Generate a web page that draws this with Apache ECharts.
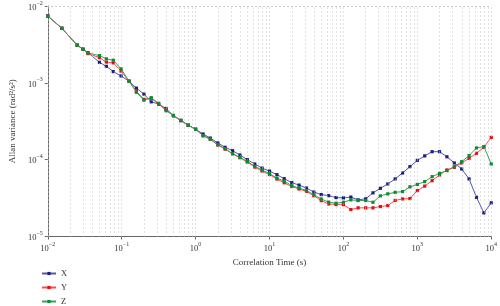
<!DOCTYPE html>
<html>
<head>
<meta charset="utf-8">
<script src="https://cdn.jsdelivr.net/npm/echarts@6/dist/echarts.min.js"></script>
<style>
html,body{margin:0;padding:0;background:#fff;}
#c{width:500px;height:306px;}
</style>
</head>
<body>
<div id="c"></div>
<script>
// Correlation time (s)
const tau = [0.01, 0.0155, 0.025, 0.03, 0.035, 0.05, 0.062, 0.077, 0.098,
  0.126, 0.158, 0.2, 0.251, 0.316, 0.398, 0.501, 0.631, 0.794, 1,
  1.26, 1.58, 2, 2.51, 3.16, 3.98, 5.01, 6.31, 7.94, 10,
  12.6, 15.8, 20, 25.1, 31.6, 39.8, 50.1, 63.1, 79.4, 100,
  126, 158, 200, 251, 316, 398, 501, 631, 794, 1000,
  1259, 1585, 1995, 2512, 3162, 3981, 5012, 6310, 7943, 10000];

const seriesX = [7.41e-3, 5.13e-3, 3.09e-3, 2.74e-3, 2.47e-3, 1.85e-3, 1.64e-3, 1.40e-3, 1.23e-3,
  1.05e-3, 8.53e-4, 7.13e-4, 5.66e-4, 5.29e-4, 4.64e-4, 3.73e-4, 3.21e-4, 2.81e-4, 2.49e-4,
  2.16e-4, 1.91e-4, 1.65e-4, 1.45e-4, 1.31e-4, 1.15e-4, 1.0e-4, 8.79e-5, 7.76e-5, 7.1e-5,
  6.38e-5, 5.66e-5, 5.02e-5, 4.67e-5, 4.27e-5, 3.79e-5, 3.51e-5, 3.40e-5, 3.21e-5, 3.18e-5,
  3.26e-5, 3.0e-5, 3.09e-5, 3.70e-5, 4.24e-5, 4.83e-5, 5.61e-5, 6.71e-5, 8.11e-5, 9.8e-5,
  1.12e-4, 1.27e-4, 1.27e-4, 1.09e-4, 9.06e-5, 7.57e-5, 5.61e-5, 3.24e-5, 2.03e-5, 2.74e-5];

const seriesY = [7.41e-3, 5.13e-3, 3.09e-3, 2.74e-3, 2.40e-3, 2.13e-3, 1.86e-3, 1.82e-3, 1.42e-3,
  1.05e-3, 7.76e-4, 6.1e-4, 6.3e-4, 5.26e-4, 4.46e-4, 3.73e-4, 3.25e-4, 2.81e-4, 2.49e-4,
  2.05e-4, 1.84e-4, 1.55e-4, 1.37e-4, 1.19e-4, 1.06e-4, 9.3e-5, 8.0e-5, 7.1e-5, 6.4e-5,
  5.6e-5, 5.0e-5, 4.47e-5, 4.15e-5, 3.86e-5, 3.39e-5, 2.93e-5, 2.65e-5, 2.6e-5, 2.6e-5,
  2.24e-5, 2.36e-5, 2.36e-5, 2.36e-5, 2.45e-5, 2.53e-5, 2.95e-5, 3.08e-5, 3.12e-5, 3.96e-5,
  4.53e-5, 5.33e-5, 6.32e-5, 7.35e-5, 7.94e-5, 9.06e-5, 1.04e-4, 1.21e-4, 1.45e-4, 1.95e-4];

const seriesZ = [7.41e-3, 5.13e-3, 3.09e-3, 2.74e-3, 2.45e-3, 2.26e-3, 2.05e-3, 1.97e-3, 1.52e-3,
  1.05e-3, 7.53e-4, 5.95e-4, 6.4e-4, 5.42e-4, 4.33e-4, 3.78e-4, 3.25e-4, 2.81e-4, 2.49e-4,
  2.05e-4, 1.85e-4, 1.57e-4, 1.39e-4, 1.20e-4, 1.07e-4, 9.5e-5, 8.18e-5, 7.31e-5, 6.58e-5,
  5.75e-5, 5.26e-5, 4.59e-5, 4.27e-5, 3.96e-5, 3.51e-5, 3.08e-5, 2.8e-5, 2.71e-5, 2.79e-5,
  3.0e-5, 2.94e-5, 2.94e-5, 2.79e-5, 3.38e-5, 3.59e-5, 3.76e-5, 3.84e-5, 4.43e-5, 4.76e-5,
  5.18e-5, 6.01e-5, 6.64e-5, 7.2e-5, 8.11e-5, 9.42e-5, 1.13e-4, 1.42e-4, 1.48e-4, 8.79e-5];

const seriesNames = ['X', 'Y', 'Z'];
const xDecades = [-2, -1, 0, 1, 2, 3];   // gridlines m*10^d, m = 1..9
const yDecades = [-5, -4, -3];
const xAxisName = 'Correlation Time (s)';
const yAxisName = 'Allan variance (rad\u00b2/s\u00b2)';

const FONT = '"Liberation Serif", "DejaVu Serif", serif';
const lineColors = ['#5558a8', '#ff4a4a', '#3aa05a'];
const dotColors = ['#1c1f80', '#e01010', '#108a35'];

function pow10Label(v) {
  const e = Math.round(Math.log10(v));
  const s = e < 0 ? '\u2212' + (-e) : String(e);
  return '{b|10}{s|' + s + '}';
}
const labelRich = {
  b: {fontFamily: FONT, fontSize: 8.5, color: '#333', lineHeight: 12, verticalAlign: 'bottom'},
  s: {fontFamily: FONT, fontSize: 6, color: '#333', lineHeight: 12, verticalAlign: 'top'}
};

const gridMarks = [];
xDecades.forEach(d => { for (let m = 1; m <= 9; m++) gridMarks.push({xAxis: m * Math.pow(10, d)}); });
gridMarks.push({xAxis: 1e4});
yDecades.forEach(d => { for (let m = 1; m <= 9; m++) gridMarks.push({yAxis: m * Math.pow(10, d)}); });
gridMarks.push({yAxis: 1e-2});

const series = [{
  name: '_grid', type: 'line', data: [], silent: true, z: 1,
  markLine: {
    silent: true, symbol: ['none', 'none'], animation: false,
    label: {show: false},
    lineStyle: {color: '#c4c4c4', width: 1, type: [1, 3]},
    emphasis: {disabled: true},
    data: gridMarks
  }
}];
[seriesX, seriesY, seriesZ].forEach((vals, i) => {
  series.push({
    name: seriesNames[i], type: 'line', z: 3 + i,
    data: tau.map((t, k) => [t, vals[k]]),
    symbol: 'rect', symbolSize: 3.2, showSymbol: true,
    lineStyle: {color: lineColors[i], width: 1},
    itemStyle: {color: dotColors[i]},
    emphasis: {disabled: true}
  });
});

const chart = echarts.init(document.getElementById('c'), null, {renderer: 'canvas'});
chart.setOption({
  animation: false,
  backgroundColor: '#fff',
  grid: {left: 37, right: 6, top: 5, bottom: 69.5, containLabel: false},
  legend: {
    data: seriesNames,
    orient: 'vertical', left: 41, top: 269, height: 60, padding: 0,
    itemWidth: 14, itemHeight: 4, itemGap: 5,
    textStyle: {fontFamily: FONT, fontSize: 8.5, color: '#333', lineHeight: 9}
  },
  xAxis: {
    type: 'log', logBase: 10, min: 0.01, max: 10000,
    name: xAxisName, nameLocation: 'middle', nameGap: 20,
    nameTextStyle: {fontFamily: FONT, fontSize: 9, color: '#333'},
    axisLine: {lineStyle: {color: '#666', width: 1}},
    axisTick: {show: true, length: 3, lineStyle: {color: '#666'}},
    axisLabel: {formatter: pow10Label, rich: labelRich, margin: 5},
    splitLine: {show: false}
  },
  yAxis: {
    type: 'log', logBase: 10, min: 1e-5, max: 1e-2,
    name: yAxisName, nameLocation: 'middle', nameGap: 23,
    nameTextStyle: {fontFamily: FONT, fontSize: 9, color: '#333'},
    axisLine: {show: true, lineStyle: {color: '#666', width: 1}},
    axisTick: {show: true, length: 3, lineStyle: {color: '#666'}},
    axisLabel: {formatter: pow10Label, rich: labelRich, margin: 5},
    splitLine: {show: false}
  },
  series: series
});
</script>
</body>
</html>
